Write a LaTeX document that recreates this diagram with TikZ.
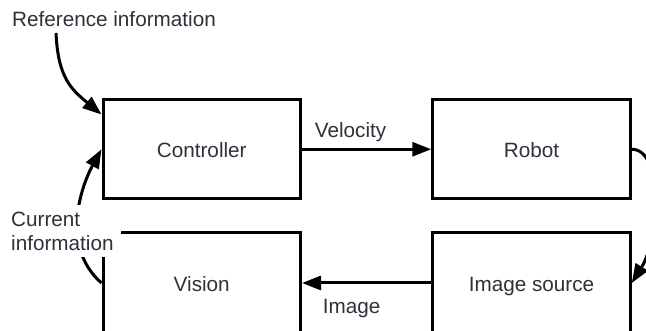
\documentclass[tikz,border=0pt]{standalone}
\usepackage{fontspec}
\setmainfont{Liberation Sans}
\usetikzlibrary{arrows.meta}
\definecolor{txt}{RGB}{48,48,58}
\begin{document}
\begin{tikzpicture}[x=1pt,y=-1pt,
  every node/.style={font=\fontsize{20.7}{23.5}\selectfont, text=txt},
  blockbox/.style={draw=black, line width=3pt, minimum width=197.5pt, inner sep=0pt, text height=17pt, text depth=0pt},
  conn/.style={line width=3pt, -{Triangle[length=19pt,width=14pt]}}]
\useasboundingbox (0,0) rectangle (646,331);
\begin{scope}
\clip (0,0) rectangle (646,331);
\node[blockbox, minimum height=98.5pt] (controller) at (201.75,149.25) {Controller};
\node[blockbox, minimum height=98.5pt] (robot) at (531.5,149.25) {Robot};
\node[blockbox, minimum height=101pt] (vision) at (201.75,283) {Vision};
\node[blockbox, minimum height=101pt] (imgsrc) at (531.5,283) {Image source};

\draw[conn] (controller.east) -- node[above=3pt, xshift=-16pt] (vel) {Velocity} (robot.west);
\draw[conn] (imgsrc.west) -- node[below=11pt, xshift=-15pt] (img) {Image} (vision.east);

\draw[conn] (robot.east) .. controls +(32,0) and +(28,-45) .. (imgsrc.east);

\node (ref) at (114,19) {Reference information};
\coordinate (refstart) at (56,33);
\draw[conn] (refstart) .. controls +(2,45) and +(-30,-25) .. ([yshift=-16pt]controller.north west);

\draw[conn] (vision.west) .. controls +(-40,-35) and +(-22,40) .. (controller.west);
\node[fill=white, align=left, inner sep=7pt, anchor=north west] (cur) at (4,205) {Current\\information};
\end{scope}
\end{tikzpicture}
\end{document}
